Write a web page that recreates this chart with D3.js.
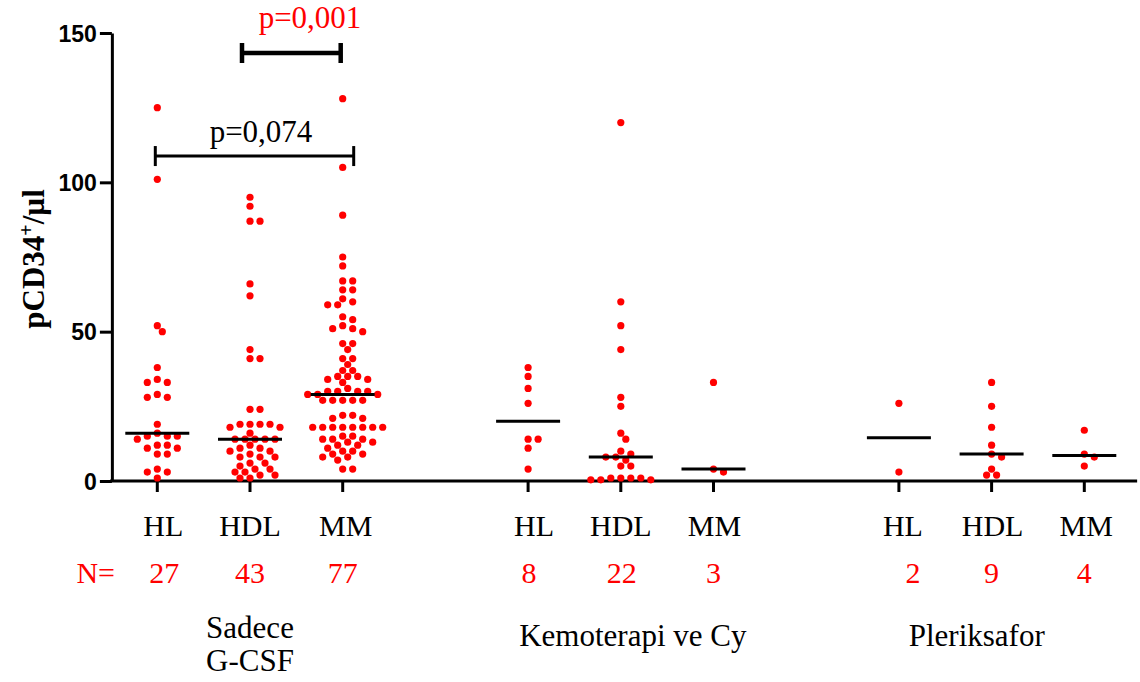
<!DOCTYPE html>
<html><head><meta charset="utf-8">
<script src="https://cdn.jsdelivr.net/npm/d3@7"></script>
<style>body{margin:0;background:#fff}svg{display:block}</style>
</head><body><svg id="c" width="1140" height="682"></svg>
<script>
// ---------- data ----------
const categories = ["HL", "HDL", "MM"];
const groupNames = ["Sadece G-CSF", "Kemoterapi ve Cy", "Pleriksafor"];
const yTicks = [0, 50, 100, 150];

const sadeceHL = [125,101,52,50,38,34,33,33,29,28,28,19,16,15,15,15,14,12,12,11,11,9,9,4,3,3,1];
const sadeceHDL = [95,92,87,87,66,62,44,41,41,24,24,19,19,19,19,18,18,16,14,14,14,14,14,12,11,11,10,10,9,8,8,8,6,6,5,4,4,3,3,2,2,1,1];
const sadeceMM = [128,105,89,75,72,67,67,64,64,61,60,59,59,55,54,52,51,51,50,46,46,44,41,41,39,37,37,35,35,35,34,34,33,31,30,30,30,30,29,29,29,27,27,27,27,27,22,22,21,21,18,18,18,18,18,18,18,18,15,15,14,14,14,13,13,12,12,11,10,10,9,9,8,8,7,4,4];
const kemoHL = [38,35,31,26,14,14,11,4];
const kemoHDL = [120,60,52,44,28,25,16,14,10,9,8,8,7,5,5,1,0.4,1,0.4,1,0.4,1];
const kemoMM = [33,4,3];
const plerHL = [26,3];
const plerHDL = [33,25,18,12,9,8,4,2,2];
const plerMM = [17,9,8,5];

const seriesValues = [sadeceHL, sadeceHDL, sadeceMM, kemoHL, kemoHDL, kemoMM, plerHL, plerHDL, plerMM];
const medians = [16, 14, 29, 20, 8, 4, 14.5, 9, 8.5];
const nLabels = ["27","43","77","8","22","3","2","9","4"];
const slots = [0,1,2, 4,5,6, 8,9,10];

// ---------- layout ----------
const svg = d3.select("#c");
const serif = "'Liberation Serif','Times New Roman',serif";
const sans = "'Liberation Sans',Arial,sans-serif";
const red = "#ff0000";

const x = d3.scaleLinear().domain([0, 10]).range([157.3, 1084.3]);
const y = d3.scaleLinear().domain([0, 150]).range([481, 33]);

// label nudges (px) relative to tick centre
const catShift = [6, 0, 3, 6, 0, 1, 4, 1, 2];
const nShift = [7, 0, 0, 1, 1, 0, 14, 0, 0];

// y axis
const yAxis = d3.axisLeft(y).tickValues(yTicks).tickSize(12).tickSizeOuter(0).tickPadding(3);
const gy = svg.append("g").attr("transform", `translate(${x(-0.49)},0)`).call(yAxis);
gy.select(".domain").attr("stroke", "#000").attr("stroke-width", 3);
gy.selectAll(".tick line").attr("stroke", "#000").attr("stroke-width", 3);
gy.selectAll(".tick text").attr("font-family", sans).attr("font-weight", "bold")
  .attr("font-size", 23).attr("fill", "#000").attr("dy", "0.36em");

// x axis line + ticks
svg.append("line").attr("x1", x(-0.51)).attr("x2", x(10.57)).attr("y1", y(0)).attr("y2", y(0))
  .attr("stroke", "#000").attr("stroke-width", 3);
svg.selectAll(".xt").data(slots).join("line")
  .attr("x1", d => x(d)).attr("x2", d => x(d)).attr("y1", y(0)).attr("y2", y(0) + 11)
  .attr("stroke", "#000").attr("stroke-width", 3);

// y label
const yl = svg.append("text").attr("transform", `translate(44,${(y(0)+y(150))/2 + 2}) rotate(-90)`)
  .attr("text-anchor", "middle").attr("font-family", serif).attr("font-weight", "bold").attr("font-size", 31);
yl.append("tspan").text("pCD34");
yl.append("tspan").attr("baseline-shift", "super").attr("font-size", 20).text("+");
yl.append("tspan").text("/µl");

// beeswarm
const R = 3.6, D = 7.4, step = 5;
function swarm(values, cx) {
  const pts = values.map(v => ({ v, y: y(v) })).sort((a, b) => a.y - b.y);
  const placed = [];
  for (const p of pts) {
    for (let k = 0; k < 60; k++) {
      const off = k === 0 ? 0 : (k % 2 ? 1 : -1) * Math.ceil(k / 2) * step;
      const px = cx + off;
      if (placed.every(q => (q.x - px) ** 2 + (q.y - p.y) ** 2 >= D * D)) { p.x = px; placed.push(p); break; }
    }
  }
  return placed;
}
seriesValues.forEach((vals, i) => {
  const pts = swarm(vals, x(slots[i]));
  svg.append("g").selectAll("circle").data(pts).join("circle")
    .attr("cx", d => d.x).attr("cy", d => d.y).attr("r", R).attr("fill", red);
});

// medians
svg.selectAll(".med").data(medians).join("line")
  .attr("x1", (d, i) => x(slots[i]) - 32).attr("x2", (d, i) => x(slots[i]) + 32)
  .attr("y1", d => y(d)).attr("y2", d => y(d)).attr("stroke", "#000").attr("stroke-width", 3);

// category labels
svg.selectAll(".cat").data(slots).join("text")
  .attr("x", (d, i) => x(d) + catShift[i]).attr("y", 536).attr("text-anchor", "middle")
  .attr("font-family", serif).attr("font-size", 30).attr("fill", "#000")
  .text((d, i) => categories[i % 3]);

// N labels
svg.append("text").attr("x", 115).attr("y", 583).attr("text-anchor", "end")
  .attr("font-family", serif).attr("font-size", 30).attr("fill", red).text("N=");
svg.selectAll(".nl").data(slots).join("text")
  .attr("x", (d, i) => x(d) + nShift[i]).attr("y", 583).attr("text-anchor", "middle")
  .attr("font-family", serif).attr("font-size", 30).attr("fill", red)
  .text((d, i) => nLabels[i]);

// group labels
const gl = svg.append("text").attr("x", x(1)).attr("y", 638).attr("text-anchor", "middle")
  .attr("font-family", serif).attr("font-size", 31).attr("fill", "#000");
gl.append("tspan").attr("x", x(1)).text("Sadece");
gl.append("tspan").attr("x", x(1)).attr("dy", 33).text("G-CSF");
svg.append("text").attr("x", x(5.13)).attr("y", 646).attr("text-anchor", "middle")
  .attr("font-family", serif).attr("font-size", 31).text(groupNames[1]);
svg.append("text").attr("x", x(8.84)).attr("y", 646).attr("text-anchor", "middle")
  .attr("font-family", serif).attr("font-size", 31).text(groupNames[2]);

// significance brackets
function bracket(x1, x2, yv, cap, w) {
  const g = svg.append("g").attr("stroke", "#000").attr("stroke-width", w);
  g.append("line").attr("x1", x1).attr("x2", x2).attr("y1", y(yv)).attr("y2", y(yv));
  g.append("line").attr("x1", x1).attr("x2", x1).attr("y1", y(yv) - cap).attr("y2", y(yv) + cap);
  g.append("line").attr("x1", x2).attr("x2", x2).attr("y1", y(yv) - cap).attr("y2", y(yv) + cap);
}
bracket(x(0) - 2, x(2) + 11, 108.8, 10, 3);
bracket(x(1) - 8, x(2) - 2, 143.3, 10, 4.5);
svg.append("text").attr("x", 261).attr("y", 142).attr("text-anchor", "middle")
  .attr("font-family", serif).attr("font-size", 31).text("p=0,074");
svg.append("text").attr("x", 310).attr("y", 28).attr("text-anchor", "middle")
  .attr("font-family", serif).attr("font-size", 31).attr("fill", red).text("p=0,001");
</script></body></html>
